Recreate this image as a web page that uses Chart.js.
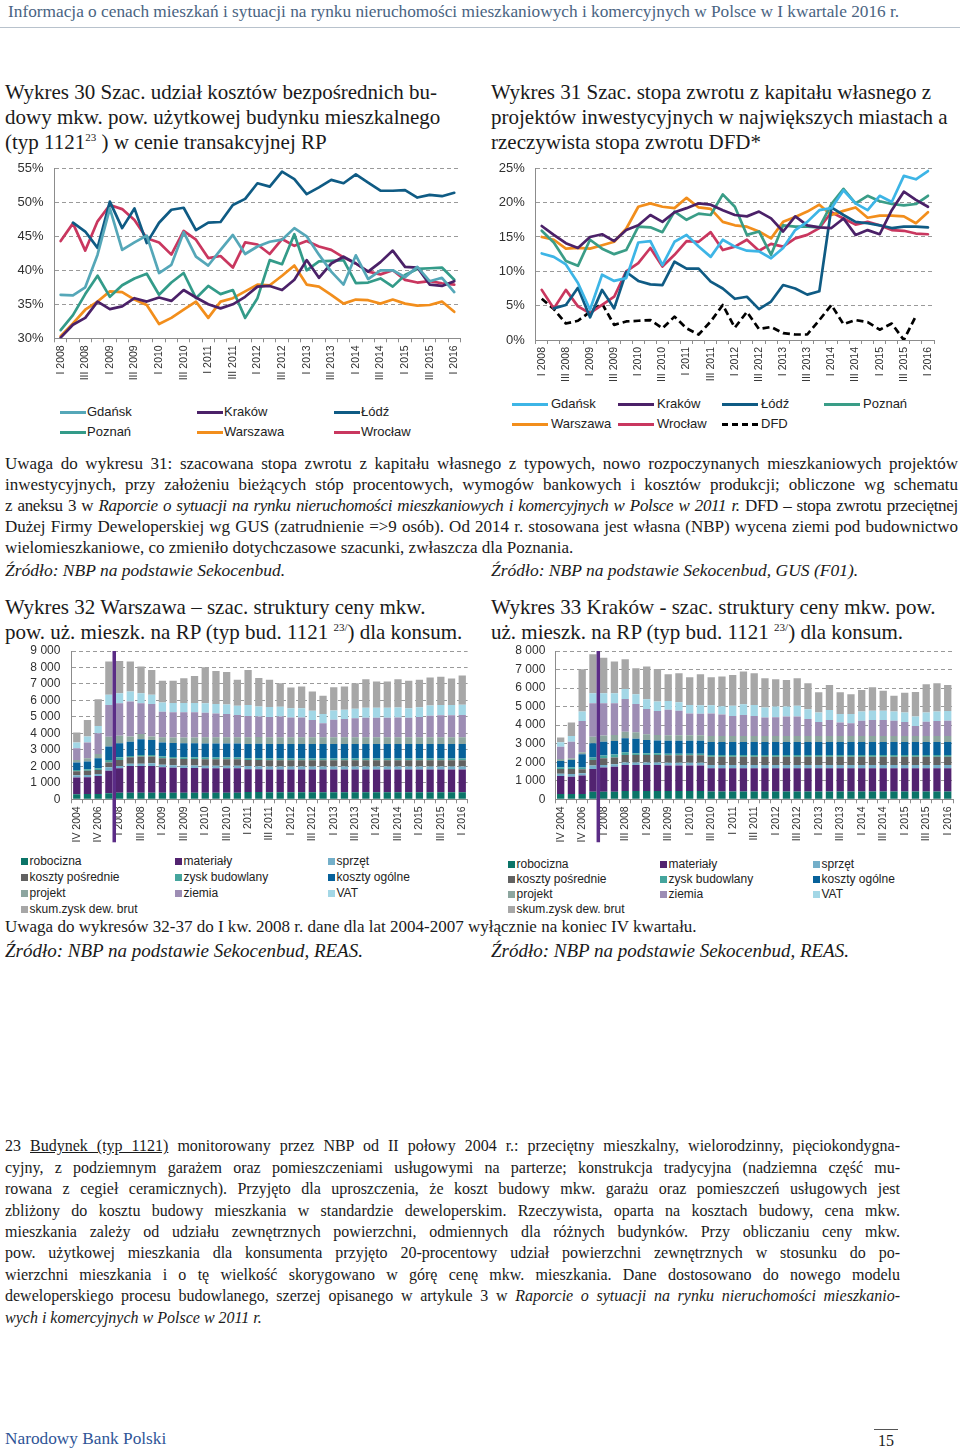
<!DOCTYPE html>
<html>
<head>
<meta charset="utf-8">
<script src="https://cdn.jsdelivr.net/npm/chart.js@4.4.1/dist/chart.umd.min.js"></script>
<style>
body { margin: 0; background: #fff; }
#page { position: relative; width: 960px; height: 1456px; overflow: hidden; font-family: "Liberation Serif", serif; color: #1a1a1a; }
.t { position: absolute; white-space: nowrap; }
.j { position: absolute; text-align: justify; text-align-last: justify; white-space: nowrap; }
.title { position: absolute; font-size: 21px; line-height: 25px; white-space: nowrap; }
sup { line-height: 0; font-size: 11px; }
.body { font-size: 17px; line-height: 21px; }
.src { font-size: 17.5px; font-style: italic; }
.src2 { font-size: 19px; font-style: italic; }
.fn { font-size: 16px; line-height: 21.4px; }
.box { position: absolute; }
.leg { position: absolute; font-family: "Liberation Sans", Arial, sans-serif; color: #222; white-space: nowrap; }
</style>
</head>
<body>
<div id="page">

<div class="t" style="left:8px;top:2px;font-size:17.3px;color:#4a6482;">Informacja o cenach mieszkań i sytuacji na rynku nieruchomości mieszkaniowych i komercyjnych w Polsce w I kwartale 2016 r.</div>
<div style="position:absolute;left:0;top:27px;width:960px;height:1px;background:#b8c2cc;"></div>

<div class="title" style="left:5px;top:79.5px;">Wykres 30 Szac. udział kosztów bezpośrednich bu-<br>dowy mkw. pow. użytkowej budynku mieszkalnego<br>(typ 1121<sup>23</sup> ) w cenie transakcyjnej RP</div>
<div class="title" style="left:491px;top:79.5px;">Wykres 31 Szac. stopa zwrotu z kapitału własnego z<br>projektów inwestycyjnych w największych miastach a<br>rzeczywista stopa zwrotu DFD*</div>

<div class="box" style="left:0;top:150px;width:470px;height:240px;"><canvas id="chart30" width="470" height="240"></canvas></div>
<div class="box" style="left:480px;top:150px;width:460px;height:240px;"><canvas id="chart31" width="460" height="240"></canvas></div>
<div id="legends"></div>

<div class="j body" style="left:5px;top:452.5px;width:953px;">Uwaga do wykresu 31: szacowana stopa zwrotu z kapitału własnego z typowych, nowo rozpoczynanych mieszkaniowych projektów</div>
<div class="j body" style="left:5px;top:473.5px;width:953px;">inwestycyjnych, przy założeniu bieżących stóp procentowych, wymogów bankowych i kosztów produkcji; obliczone wg schematu</div>
<div class="j body" style="left:5px;top:494.5px;width:953px;letter-spacing:-0.3px;">z aneksu 3 w <i>Raporcie o sytuacji na rynku nieruchomości mieszkaniowych i komercyjnych w Polsce w 2011 r.</i> DFD – stopa zwrotu przeciętnej</div>
<div class="j body" style="left:5px;top:515.5px;width:953px;">Dużej Firmy Deweloperskiej wg GUS (zatrudnienie =&gt;9 osób). Od 2014 r. stosowana jest własna (NBP) wycena ziemi pod budownictwo</div>
<div class="t body" style="left:5px;top:536.5px;">wielomieszkaniowe, co zmieniło dotychczasowe szacunki, zwłaszcza dla Poznania.</div>
<div class="t src" style="left:5px;top:560px;">Źródło: NBP na podstawie Sekocenbud.</div>
<div class="t src" style="left:491px;top:560px;">Źródło: NBP na podstawie Sekocenbud, GUS (F01).</div>

<div class="title" style="left:5px;top:594.5px;">Wykres 32 Warszawa – szac. struktury ceny mkw.<br>pow. uż. mieszk. na RP (typ bud. 1121 <sup>23/</sup>) dla konsum.</div>
<div class="title" style="left:491px;top:594.5px;">Wykres 33 Kraków - szac. struktury ceny mkw. pow.<br>uż. mieszk. na RP (typ bud. 1121 <sup>23/</sup>) dla konsum.</div>

<div class="box" style="left:0;top:640px;width:475px;height:210px;"><canvas id="chart32" width="475" height="210"></canvas></div>
<div class="box" style="left:480px;top:640px;width:478px;height:210px;"><canvas id="chart33" width="478" height="210"></canvas></div>

<div class="t" style="left:5px;top:917px;font-size:17px;">Uwaga do wykresów 32-37 do I kw. 2008 r. dane dla lat 2004-2007 wyłącznie na koniec IV kwartału.</div>
<div class="t src2" style="left:5px;top:940px;">Źródło: NBP na podstawie Sekocenbud, REAS.</div>
<div class="t src2" style="left:491px;top:940px;">Źródło: NBP na podstawie Sekocenbud, REAS.</div>

<div class="j fn" style="left:5px;top:1135.3px;width:895px;">23 <u>Budynek (typ 1121)</u> monitorowany przez NBP od II połowy 2004 r.: przeciętny mieszkalny, wielorodzinny, pięciokondygna-</div>
<div class="j fn" style="left:5px;top:1156.7px;width:895px;">cyjny, z podziemnym garażem oraz pomieszczeniami usługowymi na parterze; konstrukcja tradycyjna (nadziemna część mu-</div>
<div class="j fn" style="left:5px;top:1178.1px;width:895px;">rowana z cegieł ceramicznych). Przyjęto dla uproszczenia, że koszt budowy mkw. garażu oraz pomieszczeń usługowych jest</div>
<div class="j fn" style="left:5px;top:1199.5px;width:895px;">zbliżony do kosztu budowy mieszkania w standardzie deweloperskim. Rzeczywista, oparta na kosztach budowy, cena mkw.</div>
<div class="j fn" style="left:5px;top:1220.9px;width:895px;">mieszkania zależy od udziału zewnętrznych powierzchni, odmiennych dla różnych budynków. Przy obliczaniu ceny mkw.</div>
<div class="j fn" style="left:5px;top:1242.3px;width:895px;">pow. użytkowej mieszkania dla konsumenta przyjęto 20-procentowy udział powierzchni zewnętrznych w stosunku do po-</div>
<div class="j fn" style="left:5px;top:1263.7px;width:895px;">wierzchni mieszkania i o tę wielkość skorygowano w górę cenę mkw. mieszkania. Dane dostosowano do nowego modelu</div>
<div class="j fn" style="left:5px;top:1285.1px;width:895px;">deweloperskiego procesu budowlanego, szerzej opisanego w artykule 3 w <i>Raporcie o sytuacji na rynku nieruchomości mieszkanio-</i></div>
<div class="t fn" style="left:5px;top:1306.5px;"><i>wych i komercyjnych w Polsce w 2011 r.</i></div>

<div class="t" style="left:5px;top:1429px;font-size:17.3px;color:#2f5597;">Narodowy Bank Polski</div>
<div style="position:absolute;left:874px;top:1429px;width:24px;height:1px;background:#555;"></div>
<div class="t" style="left:878px;top:1432px;font-size:16px;">15</div>

</div>

<script>
'use strict';
/** categories **/
var quarters = ['I 2008', 'II 2008', 'III 2008', 'IV 2008', 'I 2009', 'II 2009', 'III 2009', 'IV 2009',
	'I 2010', 'II 2010', 'III 2010', 'IV 2010', 'I 2011', 'II 2011', 'III 2011', 'IV 2011',
	'I 2012', 'II 2012', 'III 2012', 'IV 2012', 'I 2013', 'II 2013', 'III 2013', 'IV 2013',
	'I 2014', 'II 2014', 'III 2014', 'IV 2014', 'I 2015', 'II 2015', 'III 2015', 'IV 2015', 'I 2016'];
var barQuarters = ['IV 2004', 'IV 2005', 'IV 2006', 'IV 2007', 'I 2008', 'II 2008', 'III 2008', 'IV 2008',
	'I 2009', 'II 2009', 'III 2009', 'IV 2009', 'I 2010', 'II 2010', 'III 2010', 'IV 2010',
	'I 2011', 'II 2011', 'III 2011', 'IV 2011', 'I 2012', 'II 2012', 'III 2012', 'IV 2012',
	'I 2013', 'II 2013', 'III 2013', 'IV 2013', 'I 2014', 'II 2014', 'III 2014', 'IV 2014',
	'I 2015', 'II 2015', 'III 2015', 'IV 2015', 'I 2016'];

/** Wykres 30 - udział kosztów bezpośrednich, % **/
var gdansk30 = [36.4, 36.3, 37.5, 42.3, 49.1, 43.0, 44.1, 45.1, 39.6, 40.8, 45.6, 42.0, 40.7, 43.0, 45.2, 42.4, 43.5, 44.2, 44.5, 46.2, 45.0, 42.3, 39.8, 37.9, 42.2, 38.7, 40.0, 40.0, 39.0, 40.5, 38.4, 38.9, 36.8];
var krakow30 = [30.1, 32.0, 33.0, 35.4, 34.3, 34.7, 35.9, 35.4, 36.0, 35.5, 37.1, 36.0, 35.0, 34.4, 35.0, 36.1, 37.6, 37.7, 37.1, 38.6, 41.5, 38.9, 41.0, 42.0, 41.0, 39.8, 41.2, 42.9, 40.5, 40.4, 37.9, 37.7, 38.4];
var lodz30 = [null, 47.0, 45.7, 43.3, 50.1, 46.2, 49.1, 44.0, 47.0, 48.9, 49.2, 45.9, 47.0, 47.1, 49.6, 50.5, 52.8, 52.3, 54.5, 53.4, 51.2, 52.2, 53.3, 52.8, 54.1, 52.9, 51.7, 51.7, 51.8, 50.7, 51.1, 50.9, 51.4];
var poznan30 = [31.2, 33.4, 36.5, 39.2, 36.1, 37.8, 38.8, 39.5, 36.4, 38.2, 39.6, 35.9, 37.7, 36.5, 37.1, 33.0, 35.9, 41.5, 40.9, 45.3, 40.0, 41.3, 41.4, 41.5, 38.1, 38.2, 38.8, 37.6, 39.3, 40.2, 40.3, 40.4, 38.6];
var warszawa30 = [30.3, 32.2, 34.2, 35.4, 36.9, 36.8, 35.7, 34.9, 32.1, 33.0, 34.2, 35.4, 33.0, 35.4, 35.9, 36.9, 37.9, 37.8, 39.2, 40.7, 37.9, 37.6, 36.4, 35.1, 35.7, 35.6, 35.1, 35.7, 35.1, 34.8, 34.9, 35.4, 33.9];
var wroclaw30 = [44.3, 46.9, 42.9, 47.2, 49.6, 49.0, 47.4, 44.7, 44.1, 42.3, 45.8, 44.5, 41.8, 42.1, 40.4, 44.1, 43.8, 42.4, 44.6, 43.6, 44.3, 43.5, 43.0, 41.9, 41.0, 39.8, 39.4, 40.0, 38.6, 38.2, 38.4, 38.1, 37.9];
var yTicks30 = [30, 35, 40, 45, 50, 55];

/** Wykres 31 - stopa zwrotu z kapitału własnego, % **/
var gdansk31 = [12.6, 12.1, 11.0, 8.3, 4.4, 9.5, 8.6, 9.0, 14.2, 14.4, 10.9, 14.3, 15.3, 13.6, 12.1, 14.6, 13.6, 13.0, 12.9, 11.9, 13.4, 16.0, 17.2, 18.9, 19.2, 21.8, 19.9, 18.9, 21.0, 20.1, 23.9, 23.4, 24.6];
var krakow31 = [16.6, 15.3, 14.1, 13.4, 15.0, 15.4, 14.4, 16.0, 16.7, 18.2, 17.2, 18.6, 19.2, 19.9, 19.7, 18.9, 18.2, 18.0, 18.7, 17.7, 15.8, 18.0, 16.7, 16.4, 16.3, 17.7, 15.3, 16.0, 15.4, 18.9, 21.6, 20.4, 19.4];
var lodz31 = [null, 4.6, 5.1, 7.6, 3.3, 7.3, 4.6, 9.9, 8.6, 8.1, 8.0, 11.4, 10.4, 10.4, 8.5, 7.5, 6.0, 6.3, 4.5, 5.6, 8.0, 7.5, 6.6, 7.1, 19.3, 18.2, 17.2, 17.0, 16.7, 16.3, 16.5, 16.5, 16.4];
var poznan31 = [15.9, 14.2, 11.5, 10.8, 14.6, 13.3, 12.5, 13.1, 16.5, 16.4, 15.7, 18.7, 17.5, 18.4, 18.2, 21.2, 19.4, 15.3, 15.8, 12.4, 16.7, 16.5, 16.5, 16.4, 19.8, 22.0, 19.9, 21.0, 20.2, 19.8, 19.6, 19.8, 21.0];
var warszawa31 = [15.0, 14.6, 13.3, 13.4, 13.3, 13.8, 14.3, 16.2, 19.4, 19.9, 19.4, 19.2, 20.7, 19.3, 19.1, 17.2, 16.7, 16.5, 15.8, 14.8, 17.2, 17.9, 18.7, 19.7, 18.2, 18.8, 19.3, 17.8, 18.1, 18.1, 18.0, 17.0, 18.6];
var wroclaw31 = [7.3, 4.6, 7.3, 4.9, 3.9, 5.1, 6.3, 10.0, 11.2, 13.4, 10.7, 12.4, 14.4, 14.3, 15.7, 13.1, 13.6, 14.6, 13.0, 14.0, 13.6, 14.8, 15.3, 16.3, 18.6, 17.7, 16.8, 17.2, 16.7, 16.0, 15.9, 15.5, 15.4];
var dfd31 = [6.0, 4.5, 2.4, 2.8, 4.1, 5.3, 2.2, 2.7, 2.8, 2.9, 1.7, 3.4, 1.7, 0.8, 2.7, 5.1, 1.8, 4.1, 1.6, 1.9, 1.0, 0.8, 0.8, 2.9, 5.1, 2.3, 2.9, 2.6, 1.5, 2.4, 0.0, 3.5, null];
var yTicks31 = [0, 5, 10, 15, 20, 25];

/** Wykres 32 - Warszawa, zł/mkw. **/
var wRob = [300, 320, 320, 360, 400, 400, 400, 400, 400, 400, 400, 400, 400, 400, 400, 400, 450, 440, 430, 430, 430, 430, 430, 430, 430, 430, 430, 430, 430, 430, 430, 430, 430, 430, 430, 430, 430];
var wMat = [1020, 1020, 1100, 1380, 1480, 1620, 1620, 1620, 1540, 1520, 1500, 1500, 1480, 1480, 1480, 1480, 1370, 1380, 1380, 1380, 1380, 1380, 1380, 1380, 1380, 1380, 1380, 1380, 1380, 1380, 1380, 1380, 1380, 1380, 1380, 1380, 1380];
var wSprz = [140, 140, 120, 200, 140, 130, 130, 170, 150, 150, 150, 150, 150, 150, 150, 150, 200, 180, 180, 180, 180, 180, 180, 180, 180, 180, 180, 180, 180, 180, 180, 180, 180, 180, 180, 180, 180];
var wKp = [240, 260, 240, 290, 370, 400, 440, 400, 400, 400, 400, 400, 400, 400, 400, 400, 370, 380, 380, 380, 380, 380, 380, 380, 380, 380, 380, 380, 380, 380, 380, 380, 380, 380, 380, 380, 380];
var wZysk = [80, 80, 100, 160, 160, 80, 100, 100, 100, 100, 100, 100, 100, 100, 100, 100, 100, 110, 110, 110, 110, 110, 110, 110, 110, 110, 110, 110, 110, 110, 110, 110, 110, 110, 110, 110, 110];
var wKo = [450, 470, 610, 810, 850, 870, 950, 910, 850, 850, 850, 850, 850, 850, 850, 850, 870, 880, 880, 880, 880, 880, 880, 880, 880, 880, 880, 880, 880, 880, 880, 880, 880, 880, 880, 880, 880];
var wProj = [160, 200, 260, 600, 450, 310, 330, 210, 330, 330, 350, 350, 380, 380, 380, 380, 410, 410, 410, 410, 410, 410, 410, 410, 410, 410, 410, 410, 410, 410, 410, 410, 410, 410, 410, 410, 410];
var wZiemia = [710, 950, 1260, 1930, 1980, 2120, 1860, 1980, 1550, 1530, 1530, 1530, 1500, 1450, 1420, 1350, 1290, 1250, 1230, 1260, 1200, 1200, 1050, 850, 1060, 1100, 1150, 1180, 1180, 1180, 1200, 1180, 1220, 1300, 1330, 1330, 1350];
var wVat = [340, 370, 440, 610, 610, 610, 610, 550, 550, 560, 560, 560, 570, 580, 580, 560, 670, 600, 600, 580, 560, 560, 560, 560, 560, 560, 570, 600, 600, 600, 600, 580, 600, 620, 620, 620, 620];
var wSkum = [610, 1010, 1620, 2020, 1960, 1820, 1620, 1510, 1330, 1360, 1510, 1650, 2190, 2000, 1970, 1580, 2120, 1730, 1650, 1430, 1250, 1310, 1160, 1100, 1410, 1410, 1550, 1740, 1600, 1600, 1720, 1660, 1660, 1700, 1710, 1610, 1770];
var yTicks32 = [0, 1000, 2000, 3000, 4000, 5000, 6000, 7000, 8000, 9000];

/** Wykres 33 - Kraków, zł/mkw. **/
var kRob = [290, 290, 290, 410, 410, 410, 450, 450, 450, 450, 450, 450, 450, 450, 420, 420, 420, 420, 420, 420, 420, 420, 420, 420, 420, 420, 420, 420, 420, 420, 420, 420, 420, 420, 420, 420, 420];
var kMat = [970, 930, 990, 1230, 1300, 1350, 1400, 1400, 1400, 1400, 1380, 1380, 1380, 1380, 1260, 1260, 1260, 1260, 1260, 1260, 1260, 1260, 1260, 1260, 1260, 1260, 1260, 1260, 1260, 1260, 1260, 1260, 1260, 1260, 1260, 1260, 1260];
var kSprz = [120, 150, 120, 180, 140, 130, 140, 140, 140, 140, 140, 140, 140, 140, 170, 170, 170, 170, 170, 170, 170, 170, 170, 170, 170, 170, 170, 170, 170, 170, 170, 170, 170, 170, 170, 170, 170];
var kKp = [260, 270, 220, 300, 360, 370, 400, 400, 400, 400, 400, 400, 400, 400, 450, 450, 450, 450, 450, 450, 450, 450, 450, 450, 450, 450, 450, 450, 450, 450, 450, 450, 450, 450, 450, 450, 450];
var kZysk = [70, 70, 90, 130, 150, 150, 150, 90, 90, 90, 90, 90, 90, 90, 90, 90, 90, 90, 90, 90, 90, 90, 90, 90, 90, 90, 90, 90, 90, 90, 90, 90, 90, 90, 90, 90, 90];
var kKo = [360, 410, 720, 770, 750, 740, 750, 780, 720, 690, 700, 700, 700, 700, 700, 700, 700, 700, 700, 700, 700, 700, 700, 700, 700, 700, 700, 700, 700, 700, 700, 700, 700, 700, 700, 700, 700];
var kProj = [110, 90, 110, 360, 330, 320, 360, 360, 310, 300, 290, 290, 290, 290, 330, 330, 330, 330, 330, 330, 330, 330, 330, 330, 330, 330, 330, 330, 330, 330, 330, 330, 330, 330, 330, 330, 330];
var kZiemia = [660, 900, 1690, 1800, 1740, 1710, 1760, 1520, 1360, 1300, 1380, 1330, 1180, 1170, 1210, 1150, 1080, 1130, 1080, 990, 1000, 1040, 1040, 910, 750, 860, 720, 680, 820, 860, 860, 820, 750, 540, 770, 800, 820];
var kVat = [240, 310, 500, 540, 540, 540, 540, 530, 530, 500, 470, 460, 460, 450, 440, 450, 540, 580, 590, 540, 580, 540, 580, 530, 510, 540, 460, 500, 490, 500, 500, 490, 510, 500, 490, 510, 530];
var kSkum = [260, 720, 2280, 2100, 1920, 1710, 1600, 1400, 1760, 1760, 1440, 1560, 1490, 1670, 1510, 1600, 1670, 1760, 1710, 1580, 1470, 1440, 1490, 1400, 1090, 1350, 1170, 1070, 1170, 1260, 1080, 860, 1070, 1330, 1530, 1530, 1400];
var yTicks33 = [0, 1000, 2000, 3000, 4000, 5000, 6000, 7000, 8000];

var segNames = ['robocizna', 'materiały', 'sprzęt', 'koszty pośrednie', 'zysk budowlany', 'koszty ogólne', 'projekt', 'ziemia', 'VAT', 'skum.zysk dew. brut'];
var segColors = ['#0b7468', '#522370', '#74afc9', '#626262', '#45a59d', '#07619a', '#8da69f', '#9d8db4', '#a3d7e6', '#a7a7a7'];

Chart.defaults.font.family = '"Liberation Sans", Arial, sans-serif';
Chart.defaults.color = '#303030';

var axisGrey = '#8c8c8c';

function spaced(v) {
	return String(v).replace(/\B(?=(\d{3})+(?!\d))/g, ' ');
}

// every other category label, like Excel's interval 2
function everyOther(val, i) {
	return i % 2 === 0 ? this.getLabelForValue(val) : '';
}

function xScale(xh) {
	return {
		offset: true,
		grid: { display: true, drawOnChartArea: false, drawTicks: true, tickLength: 4, offset: true, color: axisGrey },
		border: { display: true, color: axisGrey, width: 1 },
		ticks: { autoSkip: false, maxRotation: 90, minRotation: 90, padding: 3, font: { size: 10.5 }, callback: everyOther },
		afterFit: function(scale) {
			scale.height = xh;
			scale.paddingLeft = 0;
			scale.paddingRight = 0;
		}
	};
}

function yScale(ticks, yw, pad, fmt, fontSize, stacked) {
	return {
		stacked: stacked,
		min: ticks[0],
		max: ticks[ticks.length - 1],
		afterBuildTicks: function(scale) {
			scale.ticks = ticks.map(function(v) { return { value: v }; });
		},
		grid: { drawTicks: false, color: '#9a9a9a', lineWidth: 1 },
		border: { display: true, color: axisGrey, dash: [4, 3] },
		ticks: { autoSkip: false, padding: pad, font: { size: fontSize }, callback: fmt },
		afterFit: function(scale) {
			// fixed axis width; plot area placed by layout padding only
			scale.width = yw;
			scale.paddingTop = 0;
			scale.paddingBottom = 0;
		}
	};
}

function lineSet(label, data, color, dash) {
	return {
		label: label,
		data: data,
		borderColor: color,
		backgroundColor: color,
		borderWidth: 2.7,
		borderDash: dash || [],
		borderJoinStyle: 'round',
		borderCapStyle: dash ? 'butt' : 'round',
		pointRadius: 0,
		tension: 0,
		fill: false
	};
}

/** Wykres 30 **/
var series30 = [
	lineSet('Gdańsk', gdansk30, '#55a7b8'),
	lineSet('Kraków', krakow30, '#4b2168'),
	lineSet('Łódź', lodz30, '#0f5b84'),
	lineSet('Poznań', poznan30, '#339b89'),
	lineSet('Warszawa', warszawa30, '#f28e1c'),
	lineSet('Wrocław', wroclaw30, '#c9375f')
];
new Chart(document.getElementById('chart30'), {
	type: 'line',
	data: { labels: quarters, datasets: series30 },
	options: {
		responsive: false,
		animation: false,
		layout: { padding: { top: 18.3, right: 9.6, left: 0, bottom: 0 } },
		plugins: { legend: { display: false }, tooltip: { enabled: false } },
		scales: {
			x: xScale(51.7),
			y: yScale(yTicks30, 54.5, 11, function(v) { return v + '%'; }, 13, false)
		}
	}
});

/** Wykres 31 **/
var series31 = [
	lineSet('Gdańsk', gdansk31, '#3db5e6'),
	lineSet('Kraków', krakow31, '#4b2168'),
	lineSet('Łódź', lodz31, '#0f5b84'),
	lineSet('Poznań', poznan31, '#3a9d87'),
	lineSet('Warszawa', warszawa31, '#f28e1c'),
	lineSet('Wrocław', wroclaw31, '#c9375f'),
	lineSet('DFD', dfd31, '#000000', [7, 4])
];
new Chart(document.getElementById('chart31'), {
	type: 'line',
	data: { labels: quarters, datasets: series31 },
	options: {
		responsive: false,
		animation: false,
		layout: { padding: { top: 18.3, right: 6, left: 0, bottom: 0 } },
		plugins: { legend: { display: false }, tooltip: { enabled: false } },
		scales: {
			x: xScale(50),
			y: yScale(yTicks31, 55.7, 11, function(v) { return v + '%'; }, 13, false)
		}
	}
});

/** stacked bars **/
var dividerPlugin = {
	id: 'divider',
	afterDraw: function(chart, args, opts) {
		var xs = chart.scales.x;
		var x = xs.getPixelForValue(chart.data.labels.indexOf(opts.before) - 0.5);
		var ctx = chart.ctx;
		ctx.save();
		ctx.strokeStyle = opts.color;
		ctx.lineWidth = 3.5;
		ctx.beginPath();
		ctx.moveTo(x, chart.chartArea.top);
		ctx.lineTo(x, chart.chartArea.bottom + opts.below);
		ctx.stroke();
		ctx.restore();
	}
};

function barSets(values) {
	return values.map(function(arr, k) {
		return {
			label: segNames[k],
			data: arr,
			backgroundColor: segColors[k],
			borderWidth: 0,
			barPercentage: 0.68,
			categoryPercentage: 1
		};
	});
}

function barChart(id, values, ticks, yw, pad, right) {
	return new Chart(document.getElementById(id), {
		type: 'bar',
		data: { labels: barQuarters, datasets: barSets(values) },
		plugins: [dividerPlugin],
		options: {
			responsive: false,
			animation: false,
			layout: { padding: { top: 11, right: right, left: 0, bottom: 0 } },
			plugins: {
				legend: { display: false },
				tooltip: { enabled: false },
				divider: { before: 'I 2008', color: '#5b2c86', below: 43 }
			},
			scales: {
				x: Object.assign(xScale(50.7), { stacked: true }),
				y: yScale(ticks, yw, pad, spaced, 12, true)
			}
		}
	});
}

barChart('chart32', [wRob, wMat, wSprz, wKp, wZysk, wKo, wProj, wZiemia, wVat, wSkum], yTicks32, 71.4, 11, 7.4);
barChart('chart33', [kRob, kMat, kSprz, kKp, kZysk, kKo, kProj, kZiemia, kVat, kSkum], yTicks33, 75.3, 10, 4.9);

/** legends (HTML, laid out like the Excel grid) **/
var legendBox = document.getElementById('legends');

function addLegend(items, cols, xs, ys, kind, font, sampleW, gap) {
	items.forEach(function(it, k) {
		var x = xs[k % cols];
		var y = ys[Math.floor(k / cols)];
		var mark = document.createElement('div');
		mark.style.position = 'absolute';
		if (kind === 'line') {
			mark.style.left = x + 'px';
			mark.style.top = (y - 1.5) + 'px';
			mark.style.width = sampleW + 'px';
			if (it.dash) {
				mark.style.height = '0';
				mark.style.borderTop = '3px dashed ' + it.color;
			} else {
				mark.style.height = '3px';
				mark.style.background = it.color;
			}
		} else {
			mark.style.left = x + 'px';
			mark.style.top = (y - 3.5) + 'px';
			mark.style.width = '7px';
			mark.style.height = '7px';
			mark.style.background = it.color;
		}
		legendBox.appendChild(mark);
		var txt = document.createElement('div');
		txt.className = 'leg';
		txt.style.fontSize = font + 'px';
		txt.style.lineHeight = '16px';
		txt.style.left = (x + (kind === 'line' ? sampleW : 7) + gap) + 'px';
		txt.style.top = (y - 8) + 'px';
		txt.textContent = it.label;
		legendBox.appendChild(txt);
	});
}

addLegend(series30.map(function(s) { return { label: s.label, color: s.borderColor }; }),
	3, [60, 197, 334], [412, 432], 'line', 13, 26, 1);
addLegend(series31.map(function(s) { return { label: s.label, color: s.borderColor, dash: s.borderDash.length > 0 }; }),
	4, [512, 618, 722, 824], [404, 424], 'line', 13, 36, 3);
var segItems = segNames.map(function(n, k) { return { label: n, color: segColors[k] }; });
addLegend(segItems, 3, [21, 175, 328], [861, 877, 893, 909], 'box', 12, 0, 1.5);
addLegend(segItems, 3, [508, 660, 813], [864, 879, 894, 909], 'box', 12, 0, 1.5);
</script>
</body>
</html>
